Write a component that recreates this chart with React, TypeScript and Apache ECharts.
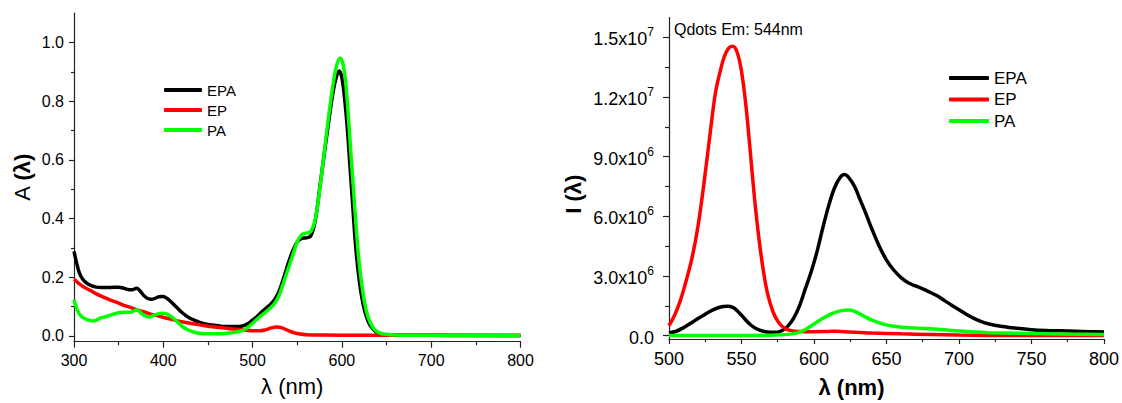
import React, { useEffect, useRef } from 'react';
import * as echarts from 'echarts';

const FONT = '"Liberation Sans", Arial, sans-serif';
const SERIES_NAMES = ['EPA', 'EP', 'PA'];
const COLORS = ['#000000', '#ff0000', '#00ff00'];

// ---------- Absorbance (left) ----------
const absEPA_nm = [300, 303, 306, 310, 315, 320, 325, 330, 340, 350, 355, 360, 365, 370, 374, 378, 382, 386, 390, 395, 400, 404, 408, 412, 416, 420, 425, 430, 435, 440, 450, 460, 470, 480, 485, 490, 495, 500, 505, 510, 515, 520, 525, 530, 535, 540, 545, 550, 555, 560, 565, 570, 575, 580, 585, 590, 594, 597, 600, 603, 606, 609, 612, 615, 618, 621, 624, 627, 630, 634, 638, 642, 646, 650, 660, 680, 700, 750, 800];
const absEPA = [0.288, 0.248, 0.215, 0.192, 0.178, 0.17, 0.166, 0.165, 0.165, 0.166, 0.163, 0.158, 0.157, 0.162, 0.153, 0.138, 0.128, 0.125, 0.127, 0.133, 0.134, 0.128, 0.118, 0.106, 0.094, 0.082, 0.07, 0.06, 0.053, 0.047, 0.039, 0.035, 0.032, 0.032, 0.032, 0.035, 0.042, 0.054, 0.066, 0.081, 0.094, 0.107, 0.125, 0.155, 0.2, 0.248, 0.29, 0.32, 0.332, 0.334, 0.34, 0.39, 0.5, 0.615, 0.725, 0.83, 0.885, 0.903, 0.88, 0.81, 0.71, 0.58, 0.45, 0.32, 0.225, 0.155, 0.105, 0.07, 0.045, 0.026, 0.014, 0.008, 0.005, 0.004, 0.003, 0.002, 0.002, 0.001, 0.001];

const absEP_nm = [300, 305, 310, 318, 325, 333, 340, 348, 355, 363, 370, 378, 385, 393, 400, 408, 415, 422, 430, 437, 445, 452, 460, 471, 480, 490, 500, 508, 515, 521, 527, 533, 540, 547, 553, 560, 580, 620, 700, 800];
const absEP = [0.193, 0.18, 0.168, 0.155, 0.143, 0.132, 0.123, 0.114, 0.105, 0.097, 0.089, 0.082, 0.075, 0.069, 0.063, 0.057, 0.052, 0.047, 0.043, 0.039, 0.035, 0.032, 0.029, 0.026, 0.023, 0.02, 0.017, 0.017, 0.021, 0.027, 0.03, 0.027, 0.018, 0.01, 0.006, 0.004, 0.003, 0.002, 0.002, 0.001];

const absPA_nm = [300, 303, 306, 310, 314, 318, 322, 326, 330, 336, 344, 350, 356, 363, 367, 370, 373, 376, 380, 384, 388, 392, 398, 402, 406, 410, 414, 418, 422, 428, 434, 440, 448, 456, 464, 472, 478, 485, 490, 495, 500, 505, 510, 515, 520, 525, 530, 535, 540, 545, 550, 555, 560, 565, 570, 575, 580, 585, 590, 594, 598, 601, 604, 607, 610, 613, 616, 619, 622, 625, 628, 632, 636, 640, 645, 650, 660, 680, 700, 750, 800];
const absPA = [0.123, 0.094, 0.074, 0.062, 0.056, 0.052, 0.051, 0.055, 0.061, 0.066, 0.074, 0.079, 0.08, 0.08, 0.085, 0.089, 0.084, 0.075, 0.068, 0.064, 0.068, 0.073, 0.077, 0.076, 0.071, 0.063, 0.053, 0.041, 0.03, 0.02, 0.013, 0.009, 0.007, 0.007, 0.007, 0.009, 0.011, 0.015, 0.02, 0.03, 0.043, 0.057, 0.07, 0.082, 0.095, 0.112, 0.14, 0.185, 0.23, 0.275, 0.32, 0.345, 0.35, 0.355, 0.395, 0.495, 0.62, 0.745, 0.855, 0.92, 0.946, 0.93, 0.87, 0.76, 0.625, 0.497, 0.37, 0.26, 0.18, 0.12, 0.078, 0.043, 0.024, 0.013, 0.007, 0.005, 0.003, 0.002, 0.002, 0.001, 0.001];

const absYTicks = [0, 0.2, 0.4, 0.6, 0.8, 1.0];
const absYMinorTicks = [0.1, 0.3, 0.5, 0.7, 0.9];

// ---------- Emission (right), values in units of 1e6 ----------
const emEPA_nm = [500, 505, 510, 515, 520, 525, 530, 535, 540, 544, 548, 552, 556, 560, 565, 570, 574, 578, 582, 586, 590, 594, 598, 602, 606, 610, 614, 618, 621, 624, 628, 632, 636, 640, 645, 650, 655, 660, 665, 670, 675, 680, 685, 690, 695, 700, 705, 710, 715, 720, 730, 740, 750, 760, 770, 780, 790, 800];
const emEPA = [0.13, 0.22, 0.4, 0.62, 0.86, 1.08, 1.28, 1.43, 1.48, 1.42, 1.18, 0.86, 0.56, 0.36, 0.22, 0.17, 0.17, 0.26, 0.48, 0.88, 1.5, 2.35, 3.2, 4.2, 5.4, 6.5, 7.4, 7.95, 8.1, 7.95, 7.5, 6.8, 6.1, 5.35, 4.5, 3.8, 3.3, 2.92, 2.66, 2.5, 2.35, 2.18, 2.0, 1.76, 1.53, 1.3, 1.08, 0.88, 0.72, 0.6, 0.46, 0.37, 0.3, 0.26, 0.24, 0.22, 0.2, 0.18];

const emEP_nm = [500, 504, 508, 512, 516, 520, 524, 528, 532, 535, 538, 541, 544, 547, 550, 553, 556, 559, 562, 565, 568, 572, 576, 580, 585, 590, 600, 610, 615, 625, 640, 660, 680, 700, 720, 750, 800];
const emEP = [0.5, 1.05, 1.8, 2.8, 3.95, 5.5, 7.6, 9.95, 12.2, 13.2, 14.0, 14.45, 14.55, 14.25, 13.3, 11.6, 9.3, 6.9, 4.9, 3.3, 2.1, 1.15, 0.62, 0.36, 0.24, 0.21, 0.2, 0.21, 0.22, 0.18, 0.13, 0.09, 0.06, 0.03, 0.01, 0.0, 0.0];

const emPA_nm = [500, 550, 570, 580, 586, 590, 595, 600, 605, 610, 615, 620, 624, 628, 632, 636, 640, 645, 650, 655, 660, 670, 680, 690, 700, 710, 720, 740, 760, 780, 800];
const emPA = [0.0, 0.0, 0.02, 0.05, 0.1, 0.18, 0.35, 0.58, 0.82, 1.02, 1.18, 1.27, 1.29, 1.22, 1.08, 0.92, 0.78, 0.64, 0.54, 0.47, 0.42, 0.38, 0.34, 0.29, 0.23, 0.18, 0.15, 0.12, 0.09, 0.07, 0.06];

const emYTicks = [0, 3, 6, 9, 12, 15];
const emYTickMantissa = ['0.0', '3.0x10', '6.0x10', '9.0x10', '1.2x10', '1.5x10'];
const emYTickExponent = ['', '6', '6', '6', '7', '7'];
const emYMinorTicks = [1.5, 4.5, 7.5, 10.5, 13.5];

const zip = (xs: number[], ys: number[]) => xs.map((x, i) => [x, ys[i]]);

const AXIS_COLOR = '#222';

function buildOption() {
  const axisLine = { show: true, onZero: false, lineStyle: { color: AXIS_COLOR, width: 1.2 } };
  const lineSeries = (name: string, color: string, data: number[][], xi: number, yi: number) => ({
    type: 'line',
    name,
    data,
    xAxisIndex: xi,
    yAxisIndex: yi,
    showSymbol: false,
    symbol: 'none',
    smooth: 0.35,
    lineStyle: { color, width: 3.5 },
    itemStyle: { color },
    z: 3,
  });

  return {
    animation: false,
    backgroundColor: '#ffffff',
    textStyle: { fontFamily: FONT },
    grid: [
      { left: 74, top: 13.2, width: 446.5, height: 328.5 },
      { left: 669, top: 17.5, width: 436, height: 323.8 },
    ],
    legend: [
      {
        data: SERIES_NAMES,
        orient: 'vertical',
        left: 164,
        top: 82,
        padding: 0,
        itemWidth: 38,
        itemHeight: 4,
        itemGap: 4,
        icon: 'roundRect',
        textStyle: { fontSize: 15, color: '#000', fontFamily: FONT, lineHeight: 16 },
        selectedMode: false,
      },
      {
        data: SERIES_NAMES,
        orient: 'vertical',
        left: 949,
        top: 69,
        padding: 0,
        itemWidth: 40,
        itemHeight: 4,
        itemGap: 3.5,
        icon: 'roundRect',
        textStyle: { fontSize: 17, color: '#000', fontFamily: FONT, lineHeight: 18 },
        selectedMode: false,
      },
    ],
    xAxis: [
      {
        type: 'value',
        gridIndex: 0,
        min: 300,
        max: 800,
        interval: 100,
        axisLine,
        axisTick: { show: true, length: 6, lineStyle: { color: AXIS_COLOR, width: 1.2 } },
        minorTick: { show: true, splitNumber: 2, length: 3.5, lineStyle: { color: AXIS_COLOR, width: 1.2 } },
        splitLine: { show: false },
        minorSplitLine: { show: false },
        axisLabel: { fontSize: 16, color: '#000', margin: 11, fontFamily: FONT },
        name: 'λ (nm)',
        nameLocation: 'middle',
        nameGap: 34,
        nameTextStyle: { fontSize: 22, color: '#000', fontFamily: FONT, padding: [0, 10, 0, 0] },
      },
      {
        type: 'value',
        gridIndex: 1,
        min: 500,
        max: 800,
        interval: 50,
        axisLine,
        axisTick: { show: true, length: 5, lineStyle: { color: AXIS_COLOR, width: 1.2 } },
        minorTick: { show: true, splitNumber: 2, length: 3, lineStyle: { color: AXIS_COLOR, width: 1.2 } },
        splitLine: { show: false },
        minorSplitLine: { show: false },
        axisLabel: { fontSize: 18, color: '#000', margin: 11, fontFamily: FONT },
        name: 'λ (nm)',
        nameLocation: 'middle',
        nameGap: 37,
        nameTextStyle: { fontSize: 22, fontWeight: 'bold', color: '#000', fontFamily: FONT, padding: [0, 70, 0, 0] },
      },
    ],
    yAxis: [
      {
        type: 'value',
        gridIndex: 0,
        position: 'left',
        min: -0.02,
        max: 1.1,
        axisLine,
        axisTick: { show: true, length: 5, customValues: absYTicks, lineStyle: { color: AXIS_COLOR, width: 1.2 } },
        axisLabel: {
          fontSize: 16,
          color: '#000',
          margin: 10,
          fontFamily: FONT,
          customValues: absYTicks,
          formatter: (v: number) => v.toFixed(1),
        },
        splitLine: { show: false },
        name: '{a|A }{b|(λ)}',
        nameLocation: 'middle',
        nameGap: 41,
        nameRotate: 90,
        nameTextStyle: {
          fontSize: 22,
          color: '#000',
          fontFamily: FONT,
          rich: {
            a: { fontSize: 22, fontFamily: FONT, color: '#000' },
            b: { fontSize: 22, fontFamily: FONT, color: '#000', fontWeight: 'bold' },
          },
        },
      },
      {
        type: 'value',
        gridIndex: 0,
        position: 'left',
        offset: 0,
        min: -0.02,
        max: 1.1,
        axisLine: { show: false, onZero: false },
        axisTick: { show: true, length: 3, customValues: absYMinorTicks, lineStyle: { color: AXIS_COLOR, width: 1.2 } },
        axisLabel: { show: false },
        splitLine: { show: false },
      },
      {
        type: 'value',
        gridIndex: 1,
        position: 'left',
        min: -0.17,
        max: 16,
        axisLine,
        axisTick: { show: true, length: 6, customValues: emYTicks, lineStyle: { color: AXIS_COLOR, width: 1.2 } },
        axisLabel: {
          color: '#000',
          margin: 15,
          fontFamily: FONT,
          customValues: emYTicks,
          formatter: (v: number) => {
            const i = emYTicks.findIndex((t) => Math.abs(t - v) < 1e-9);
            if (i < 0) return '';
            return emYTickExponent[i]
              ? `{m|${emYTickMantissa[i]}}{s|${emYTickExponent[i]}}`
              : `{m|${emYTickMantissa[i]}}`;
          },
          rich: {
            m: { fontSize: 18, fontFamily: FONT, color: '#000', lineHeight: 22, verticalAlign: 'bottom' },
            s: { fontSize: 12, fontFamily: FONT, color: '#000', lineHeight: 12, verticalAlign: 'top' },
          },
        },
        splitLine: { show: false },
        name: 'I (λ)',
        nameLocation: 'middle',
        nameGap: 85,
        nameRotate: 90,
        nameTextStyle: { fontSize: 22, fontWeight: 'bold', color: '#000', fontFamily: FONT, padding: [0, 32, 0, 0] },
      },
      {
        type: 'value',
        gridIndex: 1,
        position: 'left',
        offset: 0,
        min: -0.17,
        max: 16,
        axisLine: { show: false, onZero: false },
        axisTick: { show: true, length: 4, customValues: emYMinorTicks, lineStyle: { color: AXIS_COLOR, width: 1.2 } },
        axisLabel: { show: false },
        splitLine: { show: false },
      },
    ],
    graphic: [
      {
        type: 'text',
        left: 674,
        top: 21,
        style: { text: 'Qdots Em: 544nm', fontSize: 16, fill: '#000', fontFamily: FONT },
      },
    ],
    series: [
      lineSeries('EPA', COLORS[0], zip(absEPA_nm, absEPA), 0, 0),
      lineSeries('EP', COLORS[1], zip(absEP_nm, absEP), 0, 0),
      lineSeries('PA', COLORS[2], zip(absPA_nm, absPA), 0, 0),
      lineSeries('EPA', COLORS[0], zip(emEPA_nm, emEPA), 1, 2),
      lineSeries('EP', COLORS[1], zip(emEP_nm, emEP), 1, 2),
      lineSeries('PA', COLORS[2], zip(emPA_nm, emPA), 1, 2),
    ],
  };
}

export default function App() {
  const ref = useRef<HTMLDivElement>(null);
  useEffect(() => {
    if (!ref.current) return;
    const chart = echarts.init(ref.current, null, { renderer: 'svg' });
    chart.setOption(buildOption() as any);
    return () => chart.dispose();
  }, []);
  return (
    <div
      ref={ref}
      style={{ position: 'fixed', left: 0, top: 0, width: 1122, height: 403, background: '#fff' }}
    />
  );
}
